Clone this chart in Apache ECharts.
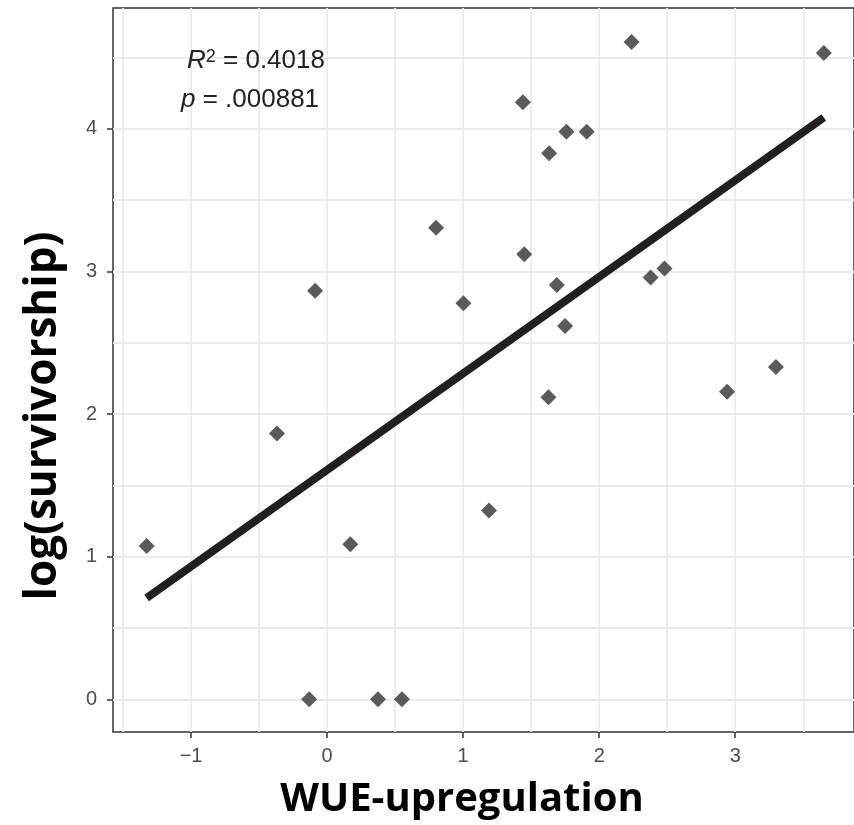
<!DOCTYPE html>
<html>
<head>
<meta charset="utf-8">
<script src="https://cdn.jsdelivr.net/npm/echarts@6/dist/echarts.min.js"></script>
<style>
html, body {
  width: 100%;
  height: 100%;
  padding: 0px;
  margin: 0px;
  background: #fff;
}
#chart { width: 854px; height: 825px; }
</style>
</head>
<body>
<div id="chart"></div>
<script>
// WUE-upregulation vs log(survivorship), one point per line
var wueValues = [-1.327, -0.369, -0.088, -0.132, 0.171, 0.374, 0.55, 0.801, 1.002, 1.19, 1.439, 1.449,
  1.632, 1.627, 1.688, 1.749, 1.759, 1.908, 2.238, 2.378, 2.48, 2.94, 3.299, 3.651];
var survValues = [1.075, 1.865, 2.865, 0, 1.087, 0, 0, 3.307, 2.777, 1.325, 4.187, 3.121,
  3.829, 2.118, 2.905, 2.618, 3.98, 3.98, 4.609, 2.959, 3.022, 2.157, 2.33, 4.532];

// fitted regression line, ends only
var fitX = [-1.327, 3.651];
var fitY = [0.71, 4.08];

var xTickLabels = [-1, 0, 1, 2, 3];
var yTickLabels = [0, 1, 2, 3, 4];
// minor grid lines (between the labelled ticks)
var xMinorValues = [-1.5, -0.5, 0.5, 1.5, 2.5, 3.5];
var yMinorValues = [0.5, 1.5, 2.5, 3.5, 4.5];

var chart = echarts.init(document.getElementById('chart'));

var points = wueValues.map(function (x, i) { return [x, survValues[i]]; });
var fitLine = fitX.map(function (x, i) { return [x, fitY[i]]; });

var gridColor = '#ebebeb';
var labelStyle = { color: '#4d4d4d', fontSize: 20, fontFamily: 'Liberation Sans, Arial, sans-serif' };
var tickStyle = { color: '#333', width: 1.5 };

var option = {
  animation: false,
  backgroundColor: '#fff',
  grid: {
    left: 113, right: -2, top: 8, bottom: 93,
    show: true, borderColor: '#333', borderWidth: 1.5, backgroundColor: 'transparent'
  },
  xAxis: [
    {
      type: 'value', min: -1.574, max: 3.873, position: 'bottom',
      axisLine: { show: false, onZero: false },
      axisTick: { show: true, length: 6, customValues: xTickLabels, lineStyle: tickStyle },
      splitLine: { show: true, lineStyle: { color: gridColor, width: 1.8 } },
      axisLabel: Object.assign({
        customValues: xTickLabels, margin: 14,
        formatter: function (v) { return String(v).replace('-', '\u2212'); }
      }, labelStyle)
    },
    {
      type: 'value', min: -1.574, max: 3.873, position: 'bottom',
      axisLine: { show: false, onZero: false },
      axisTick: { show: false, customValues: xMinorValues },
      splitLine: { show: true, lineStyle: { color: gridColor, width: 1.8 } },
      axisLabel: { show: false }
    }
  ],
  yAxis: [
    {
      type: 'value', min: -0.229, max: 4.848, position: 'left',
      axisLine: { show: false, onZero: false },
      axisTick: { show: true, length: 6, customValues: yTickLabels, lineStyle: tickStyle },
      splitLine: { show: true, lineStyle: { color: gridColor, width: 1.8 } },
      axisLabel: Object.assign({ customValues: yTickLabels, margin: 16 }, labelStyle)
    },
    {
      type: 'value', min: -0.229, max: 4.848, position: 'left',
      axisLine: { show: false, onZero: false },
      axisTick: { show: false, customValues: yMinorValues },
      splitLine: { show: true, lineStyle: { color: gridColor, width: 1.8 } },
      axisLabel: { show: false }
    }
  ],
  series: [
    {
      type: 'scatter',
      data: points,
      symbol: 'diamond',
      symbolSize: [16, 16],
      itemStyle: { color: '#5a5a5a', opacity: 1 },
      z: 2
    },
    {
      type: 'line',
      data: fitLine,
      symbol: 'none',
      lineStyle: { color: '#231f20', width: 8 },
      z: 3
    }
  ],
  graphic: [
    {
      type: 'text', left: 187, top: 48, z: 100,
      style: {
        text: '{i|R}{s|2}{n| = 0.4018}',
        rich: {
          i: { fontSize: 26, fontStyle: 'italic', fontFamily: 'Liberation Sans, Arial', fill: '#222', verticalAlign: 'bottom' },
          s: { fontSize: 18, fontFamily: 'Liberation Sans, Arial', fill: '#222', verticalAlign: 'top' },
          n: { fontSize: 26, fontFamily: 'Liberation Sans, Arial', fill: '#222', verticalAlign: 'bottom' }
        }
      }
    },
    {
      type: 'text', left: 181, top: 87, z: 100,
      style: {
        text: '{i|p}{n| = .000881}',
        rich: {
          i: { fontSize: 26, fontStyle: 'italic', fontFamily: 'Liberation Sans, Arial', fill: '#222' },
          n: { fontSize: 26, fontFamily: 'Liberation Sans, Arial', fill: '#222' }
        }
      }
    },
    {
      // labels under the x axis are cut off in the source figure
      type: 'rect', left: 113, top: 762, z: 100,
      shape: { width: 741, height: 14 },
      style: { fill: '#fff' }
    },
    {
      type: 'text', x: 462, y: 800, z: 101,
      style: {
        text: 'WUE-upregulation', fill: '#000',
        font: 'bold 40px "Open Sans", sans-serif',
        align: 'center', verticalAlign: 'middle'
      }
    },
    {
      type: 'text', x: 43, y: 416, rotation: Math.PI / 2, z: 101,
      style: {
        text: 'log(survivorship)', fill: '#000',
        font: 'bold 44px "Open Sans", sans-serif',
        align: 'center', verticalAlign: 'middle'
      }
    }
  ]
};

chart.setOption(option);
</script>
</body>
</html>
